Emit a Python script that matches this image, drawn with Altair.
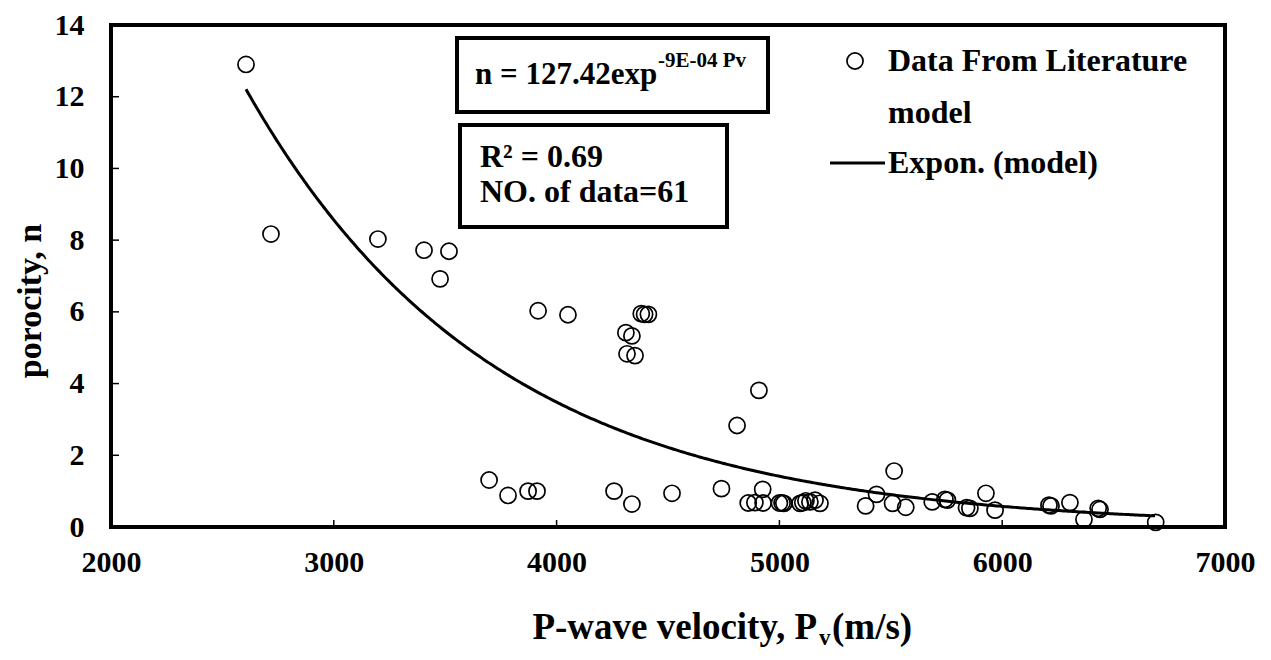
import altair as alt
import pandas as pd

# P-wave velocity (m/s) and porosity (%)
pv = [2606, 2718, 3198, 3405, 3517, 3477, 3917, 4051, 4380, 4395, 4412,
      4311, 4338, 4316, 4352, 4908, 4810, 5515,
      3697, 3782, 3872, 3912, 4258, 4338, 4518, 4740, 4925,
      4860, 4890, 4927, 5000, 5012, 5020, 5093, 5105, 5119, 5137, 5160, 5182,
      5387, 5436, 5508, 5567, 5686, 5743, 5754, 5840, 5855, 5927, 5968,
      6210, 6219, 6304, 6367, 6431, 6439, 6689]
n = [12.9, 8.17, 8.03, 7.72, 7.69, 6.92, 6.03, 5.92, 5.95, 5.93, 5.93,
     5.42, 5.33, 4.83, 4.78, 3.81, 2.83, 1.56,
     1.31, 0.88, 1.0, 1.0, 1.0, 0.64, 0.94, 1.07, 1.05,
     0.67, 0.68, 0.67, 0.67, 0.67, 0.66, 0.66, 0.68, 0.73, 0.70, 0.75, 0.66,
     0.59, 0.91, 0.66, 0.55, 0.70, 0.77, 0.75, 0.54, 0.52, 0.94, 0.47,
     0.61, 0.59, 0.68, 0.21, 0.52, 0.49, 0.13]

# Exponential trendline coefficients as printed on the chart: n = A * exp(B * Pv)
fit_a = 127.42
fit_b = -9e-4

x_ticks = [2000, 3000, 4000, 5000, 6000, 7000]
y_ticks = [0, 2, 4, 6, 8, 10, 12, 14]

eq_main = "n = 127.42exp"
eq_sup = "-9E-04 Pv"
r2_text = "R² = 0.69"
count_text = "NO. of data=61"
leg_points = "Data From Literature"
leg_blank = "model"
leg_line = "Expon. (model)"
x_title_a = "P-wave velocity, P"
x_title_sub = "v"
x_title_b = "(m/s)"
y_title = "porocity, n"

W, H = 1114, 502
TOP = 17
FONT = "Liberation Serif, Times New Roman, serif"

df = pd.DataFrame({"pv": pv, "n": n})
xs = alt.Scale(domain=[2000, 7000], nice=False, zero=False)
ys = alt.Scale(domain=[0, 14], nice=False)

x_axis = alt.Axis(values=x_ticks, title=None, grid=False, domain=False, ticks=False,
                  labelFont=FONT, labelFontSize=30, labelFontWeight="bold", labelColor="black",
                  labelPadding=20, labelFlush=False, labelOverlap=False, format="d")
y_axis = alt.Axis(values=y_ticks, title=None, grid=False, domain=False, ticks=False,
                  labelFont=FONT, labelFontSize=30, labelFontWeight="bold", labelColor="black",
                  labelPadding=27, labelOverlap=False, format="d")

base = alt.Chart(df)
points = base.mark_point(shape="circle", filled=False, color="black", strokeWidth=1.7,
                         size=260, opacity=1).encode(
    x=alt.X("pv:Q", scale=xs, axis=x_axis),
    y=alt.Y("n:Q", scale=ys, axis=y_axis),
)

trend = alt.Chart(alt.sequence(min(pv), max(pv) + 1, 10, as_="pv")).transform_calculate(
    fit=f"{fit_a} * exp({fit_b} * datum.pv)"
).mark_line(color="black", strokeWidth=3).encode(
    x=alt.X("pv:Q", scale=xs), y=alt.Y("fit:Q", scale=ys))

xt = alt.Chart(pd.DataFrame({"t": x_ticks[1:-1]})).mark_rule(color="black", strokeWidth=1.5).encode(
    x=alt.X("t:Q", scale=xs), y=alt.value(H), y2=alt.value(H - 7))
yt = alt.Chart(pd.DataFrame({"t": y_ticks[1:-1]})).mark_rule(color="black", strokeWidth=1.5).encode(
    y=alt.Y("t:Q", scale=ys), x=alt.value(0), x2=alt.value(8))

one = alt.Data(values=[{"a": 1}])
dy = 23 - (8 + TOP)  # keep annotation positions tied to the reference page


def box(x1, x2, y1, y2):
    return alt.Chart(one).mark_rect(fill="white", stroke="black", strokeWidth=4).encode(
        x=alt.value(x1), x2=alt.value(x2), y=alt.value(y1 + dy), y2=alt.value(y2 + dy))


def label(txt, x, y, size=31, align="left", baseline="middle", angle=0):
    return alt.Chart(one).mark_text(align=align, baseline=baseline, font=FONT, fontWeight="bold",
                                    fontSize=size, color="black", angle=angle).encode(
        x=alt.value(x), y=alt.value(y + dy), text=alt.value(txt))


box1 = box(346, 657, 15, 89)
box2 = box(349, 616, 102, 204)

t_eq = label(eq_main, 364, 52)
t_sup = label(eq_sup, 547, 38, size=21)
t_r2 = label(r2_text, 369, 134, size=32)
t_cnt = label(count_text, 369, 169, size=32)

leg_pt = alt.Chart(one).mark_point(shape="circle", filled=False, color="black", strokeWidth=1.7,
                                   size=260, opacity=1).encode(x=alt.value(744), y=alt.value(38 + dy))
leg_ln = alt.Chart(one).mark_rule(color="black", strokeWidth=3).encode(
    x=alt.value(719), x2=alt.value(774), y=alt.value(140 + dy))
l1 = label(leg_points, 777, 38, size=32)
l2 = label(leg_blank, 777, 90, size=32)
l3 = label(leg_line, 777, 140, size=32)

xt_a = label(x_title_a, 706, 605, size=37, align="right")
xt_s = label(x_title_sub, 708, 615, size=23)
xt_b = label(x_title_b, 721, 605, size=37)
yt_t = label(y_title, -80, 278, size=34, align="center", angle=270)

chart = alt.layer(
    xt, yt, trend, points, box1, box2, t_eq, t_sup, t_r2, t_cnt,
    leg_pt, leg_ln, l1, l2, l3, xt_a, xt_s, xt_b, yt_t
).properties(
    width=W, height=H,
    autosize=alt.AutoSizeParams(type="none"),
    padding={"left": 103, "top": TOP, "right": 30, "bottom": 130},
    background="white",
).configure_view(stroke="black", strokeWidth=4)

chart.save("out.html", embed_options={"renderer": "svg", "actions": False})
